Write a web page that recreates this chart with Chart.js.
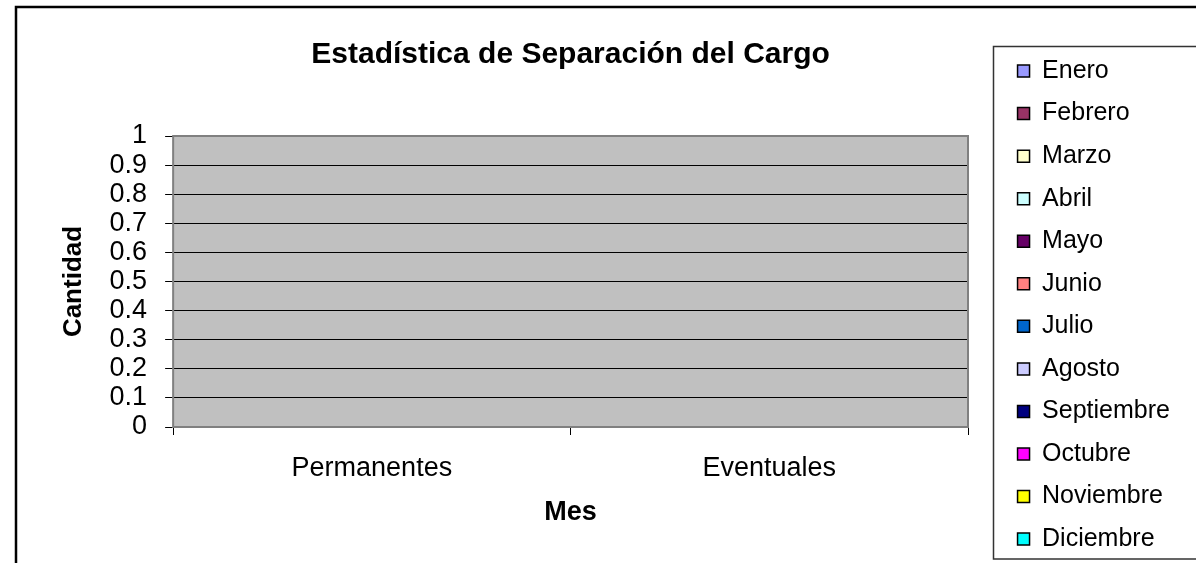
<!DOCTYPE html>
<html>
<head>
<meta charset="utf-8">
<script src="https://cdn.jsdelivr.net/npm/chart.js@4/dist/chart.umd.min.js"></script>
<style>
  html, body { margin: 0; padding: 0; background: #fff; }
  #wrap { width: 1196px; height: 563px; position: relative; }
</style>
</head>
<body>
<div id="wrap"><canvas id="chart"></canvas></div>
<script>
// Chart data
const categories = ['Permanentes', 'Eventuales'];
const months = ['Enero', 'Febrero', 'Marzo', 'Abril', 'Mayo', 'Junio', 'Julio',
  'Agosto', 'Septiembre', 'Octubre', 'Noviembre', 'Diciembre'];
// one row per month: [Permanentes, Eventuales]
const monthValues = [
  [0, 0], // Enero
  [0, 0], // Febrero
  [0, 0], // Marzo
  [0, 0], // Abril
  [0, 0], // Mayo
  [0, 0], // Junio
  [0, 0], // Julio
  [0, 0], // Agosto
  [0, 0], // Septiembre
  [0, 0], // Octubre
  [0, 0], // Noviembre
  [0, 0]  // Diciembre
];
const monthColors = ['#9999FF', '#993366', '#FFFFCC', '#CCFFFF', '#660066', '#FF8080',
  '#0066CC', '#CCCCFF', '#000080', '#FF00FF', '#FFFF00', '#00FFFF'];
const yMin = 0;
const yMax = 1;
const yStep = 0.1;

const FONT = "Arial, 'Liberation Sans', sans-serif";

// gray plot area + frames, Excel style
const frames = {
  id: 'frames',
  beforeDraw(chart) {
    const { ctx, chartArea: a } = chart;
    ctx.save();
    ctx.fillStyle = '#C0C0C0';
    ctx.fillRect(a.left, a.top, a.right - a.left, a.bottom - a.top);
    ctx.restore();
  },
  beforeDatasetsDraw(chart) {
    const { ctx, chartArea: a } = chart;
    ctx.save();
    ctx.strokeStyle = '#808080';
    ctx.lineWidth = 2;
    ctx.strokeRect(a.left, a.top, a.right - a.left, a.bottom - a.top);
    ctx.restore();
  },
  afterLayout(chart) {
    // move legend into its framed box on the right
    const lg = chart.legend;
    lg.left = 1000;
    lg.width = 300;
    lg.right = lg.left + lg.width;
    lg.top = 41;
    lg.bottom = 640;
    lg.height = lg.bottom - lg.top;
  },
  afterDraw(chart) {
    const { ctx } = chart;
    ctx.save();
    // outer chart border
    ctx.strokeStyle = '#000';
    ctx.lineWidth = 2.5;
    ctx.strokeRect(16, 7, 1400, 800);
    // legend border
    ctx.strokeStyle = '#333';
    ctx.lineWidth = 1.5;
    ctx.strokeRect(993.5, 46.5, 400, 512.5);
    ctx.restore();
  }
};

new Chart(document.getElementById('chart'), {
  type: 'bar',
  data: {
    labels: categories,
    datasets: months.map((m, i) => ({
      label: m,
      data: monthValues[i],
      backgroundColor: monthColors[i],
      borderColor: '#000',
      borderWidth: 1.5
    }))
  },
  options: {
    responsive: true,
    maintainAspectRatio: false,
    animation: false,
    layout: { padding: { left: 58.4, right: 78, top: 0, bottom: 0 } },
    plugins: {
      title: {
        display: true,
        text: 'Estadística de Separación del Cargo',
        color: '#000',
        fullSize: false,
        font: { family: FONT, size: 30, weight: 'bold' },
        padding: { top: 37, bottom: 63 }
      },
      legend: {
        position: 'right',
        align: 'start',
        maxWidth: 150,
        labels: {
          color: '#000',
          boxWidth: 12,
          boxHeight: 12,
          padding: 17.55,
          font: { family: FONT, size: 25 }
        }
      },
      tooltip: { enabled: false }
    },
    scales: {
      x: {
        grid: {
          offset: true,
          drawOnChartArea: false,
          drawTicks: true,
          tickLength: 8,
          color: '#000'
        },
        border: { color: '#000', width: 1 },
        ticks: {
          color: '#000',
          padding: 17.8,
          maxRotation: 0,
          font: { family: FONT, size: 27 }
        },
        title: {
          display: true,
          text: 'Mes',
          color: '#000',
          font: { family: FONT, size: 27, weight: 'bold', lineHeight: 0.7 },
          padding: { top: 0, bottom: 41.1 }
        }
      },
      y: {
        min: yMin,
        max: yMax,
        grid: {
          color: '#000',
          drawTicks: true,
          tickLength: 8
        },
        border: { color: '#000', width: 1 },
        ticks: {
          stepSize: yStep,
          autoSkip: false,
          color: '#000',
          padding: 18,
          font: { family: FONT, size: 27 },
          callback: (v) => String(Number(v.toFixed(1)))
        },
        title: {
          display: true,
          text: 'Cantidad',
          color: '#000',
          font: { family: FONT, size: 26, weight: 'bold' },
          padding: { top: 0, bottom: 2 }
        }
      }
    }
  },
  plugins: [frames]
});
</script>
</body>
</html>
